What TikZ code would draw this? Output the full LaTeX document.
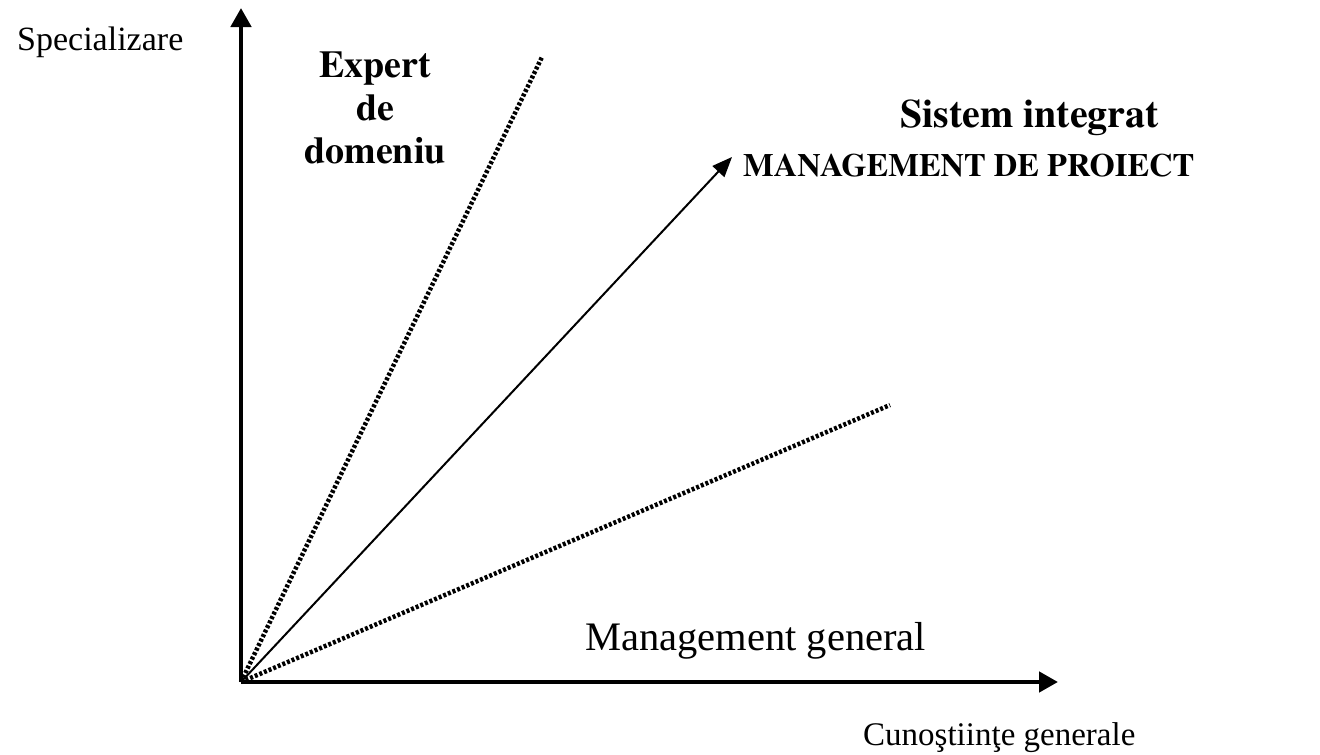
\documentclass[tikz,border=0pt]{standalone}
\usepackage{fontspec}
\setmainfont{Liberation Serif}
\newfontfamily\heavyserif{texgyretermes-bold}[Extension=.otf]
\usetikzlibrary{arrows.meta}

\begin{document}
\begin{tikzpicture}[x=1pt, y=-1pt,
  axis/.style={line width=4.5pt, -{Triangle[length=19pt, width=20pt]}},
  trend/.style={line width=2pt, -{Triangle[length=20pt, width=16pt]}},
  bound/.style={line width=4.5pt, dash pattern=on 3pt off 2pt},
  lbl/.style={anchor=base west, inner sep=0pt}]
\useasboundingbox (0,0) rectangle (1320,755);

% Origine si capete
\coordinate (o) at (241,682);
\coordinate (ytip) at (241,8);
\coordinate (xtip) at (1058,682);
\coordinate (expend) at (542,57);
\coordinate (genend) at (890,405);
\coordinate (sisend) at (732,157);

% Axe
\draw[axis] (o) -- (ytip);
\draw[axis] (o) -- (xtip);

% Directii
\draw[bound] (o) -- (expend);
\draw[bound] (o) -- (genend);
\draw[trend] (o) -- (sisend);

% Etichete axe
\node[lbl, font=\fontsize{34}{40}\selectfont] (spec) at (17,50) {Specializare};
\node[lbl, font=\fontsize{33}{40}\selectfont] (cunos) at (863,745) {Cunoştiinţe generale};

% Etichete directii
\node[inner sep=0pt, align=center, font=\heavyserif\fontsize{38}{43}\selectfont] (expert) at (375,108) {Expert\\de\\domeniu};
\node[lbl, font=\heavyserif\fontsize{40}{46}\selectfont] (sistem) at (900,127) {Sistem integrat};
\node[lbl, font=\heavyserif\fontsize{32.5}{40}\selectfont] (mp) at (743,176) {MANAGEMENT DE PROIECT};
\node[lbl, font=\fontsize{40.5}{46}\selectfont] (mgen) at (585,650) {Management general};
\end{tikzpicture}
\end{document}
